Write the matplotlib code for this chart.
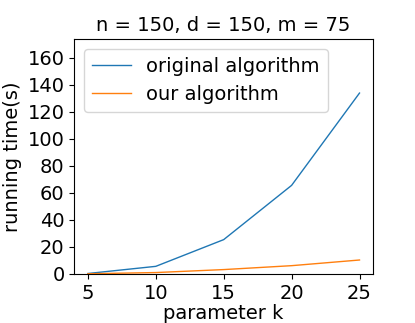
import matplotlib
matplotlib.use("Agg")
import matplotlib.pyplot as plt

k_values = [5, 10, 15, 20, 25]
original_time = [0.3, 5.6, 25.4, 65.6, 134.0]
our_time = [0.1, 1.0, 3.2, 6.1, 10.3]
y_ticks = [0, 20, 40, 60, 80, 100, 120, 140, 160]


def main():
    fig = plt.figure(figsize=(4.15, 3.23), dpi=100)
    ax = fig.add_axes([0.179, 0.152, 0.72, 0.727])

    ax.plot(k_values, original_time, linewidth=1.0, label="original algorithm")
    ax.plot(k_values, our_time, linewidth=1.0, label="our algorithm")

    ax.set_ylim(0, 174)
    ax.set_xticks(k_values)
    ax.set_yticks(y_ticks)
    ax.tick_params(labelsize=14)
    ax.set_xlabel("parameter k", fontsize=14, labelpad=1)
    ax.set_ylabel("running time(s)", fontsize=14)
    ax.set_title("n = 150, d = 150, m = 75", fontsize=14)
    ax.legend(loc="upper left", fontsize=14)

    fig.savefig("out.png", dpi=100)


if __name__ == "__main__":
    main()
